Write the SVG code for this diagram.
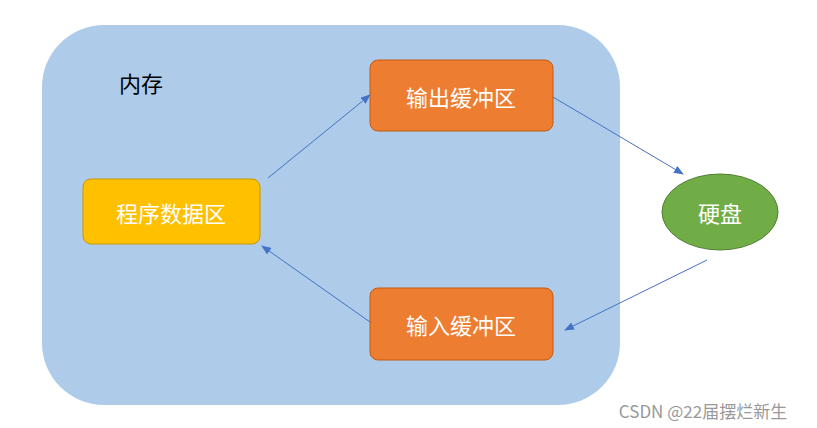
<svg xmlns="http://www.w3.org/2000/svg" width="817" height="428" viewBox="0 0 817 428">
<style>
text{font-family:"Noto Sans CJK SC","Noto Sans",sans-serif}
.w{fill:#fff;font-size:22px;text-anchor:middle;dominant-baseline:central}
.c{stroke:#4472C4;stroke-width:1;fill:none;marker-end:url(#a)}
</style>
<defs><marker id="a" markerWidth="10" markerHeight="8" refX="9" refY="4" orient="auto" markerUnits="userSpaceOnUse"><path d="M0,0 L10,4 L0,8 Z" fill="#4472C4"/></marker></defs>
<rect width="817" height="428" fill="#fff"/>
<g id="memory"><rect x="42" y="25" width="578" height="380" rx="62" fill="#AECCEA"/>
<text x="141" y="82" font-size="22" text-anchor="middle" dominant-baseline="central">内存</text></g>
<g id="out"><rect x="370" y="60" width="183" height="71" rx="8" fill="#ED7D31" stroke="#C55A11"/><text class="w" x="461" y="96">输出缓冲区</text></g>
<g id="prog"><rect x="83" y="179" width="177" height="65" rx="8" fill="#FFC000" stroke="#C99700"/><text class="w" x="171" y="212">程序数据区</text></g>
<g id="in"><rect x="370" y="288" width="183" height="72" rx="8" fill="#ED7D31" stroke="#C55A11"/><text class="w" x="461" y="324">输入缓冲区</text></g>
<g id="disk"><ellipse cx="720" cy="212" rx="58" ry="38" fill="#70AD47" stroke="#507E32"/><text class="w" x="720" y="212">硬盘</text></g>
<g id="connectors">
<line class="c" x1="268" y1="178" x2="370" y2="95"/>
<line class="c" x1="553" y1="97" x2="683" y2="174"/>
<line class="c" x1="707" y1="260" x2="565" y2="330"/>
<line class="c" x1="370" y1="322" x2="262" y2="246"/>
</g>
<text x="703" y="410" font-size="17" fill="#999" text-anchor="middle" dominant-baseline="central">CSDN @22届摆烂新生</text>
</svg>
